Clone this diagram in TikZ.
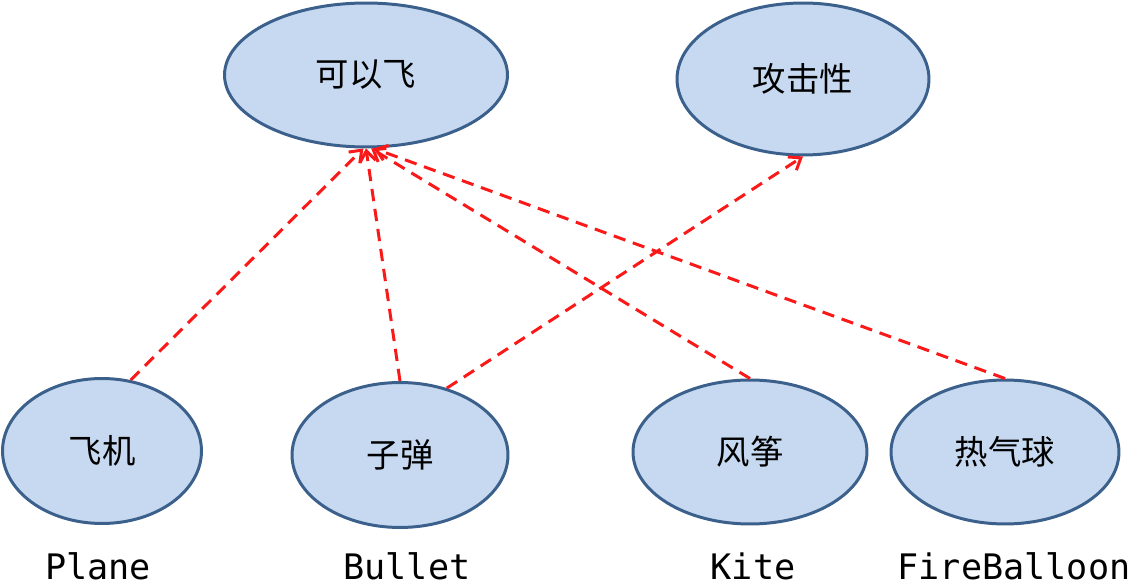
\documentclass[tikz,border=0pt]{standalone}
\usepackage{fontspec}
\setmonofont{DejaVu Sans Mono}
\newfontfamily\cjk{Noto Sans CJK SC}
\usetikzlibrary{shapes.geometric, arrows.meta}

\definecolor{ovalfill}{RGB}{198,217,240}
\definecolor{ovaldraw}{RGB}{60,96,140}
\definecolor{linkred}{RGB}{250,25,25}

\begin{document}
\begin{tikzpicture}[x=0.02cm, y=-0.02cm]
        \tikzstyle{oval}=[ellipse, draw=ovaldraw, fill=ovalfill, line width=1.7pt, inner sep=0pt, font=\cjk\fontsize{19}{19}\selectfont]
        \tikzstyle{impl}=[draw=linkred, line width=1.7pt, dash pattern=on 7pt off 4.5pt, -{Straight Barb[length=6pt, width=9pt]}]
        \tikzstyle{classname}=[anchor=base, font=\ttfamily\fontsize{20}{20}\selectfont]

        \useasboundingbox (0,0) rectangle (1144,587);

        % interfaces
        \node[oval, minimum width=5.66cm, minimum height=2.88cm] (canfly) at (366,75) {可以飞};
        \node[oval, minimum width=5.04cm, minimum height=3.04cm] (attack) at (803,79) {攻击性};

        % classes
        \node[oval, minimum width=3.98cm, minimum height=2.9cm] (plane) at (102,451) {飞机};
        \node[oval, minimum width=4.32cm, minimum height=2.9cm] (bullet) at (400,455) {子弹};
        \node[oval, minimum width=4.68cm, minimum height=2.88cm] (kite) at (750,452) {风筝};
        \node[oval, minimum width=4.56cm, minimum height=2.88cm] (balloon) at (1005,452) {热气球};

        \node[classname] (planename) at (98,580) {Plane};
        \node[classname] (bulletname) at (407,580) {Bullet};
        \node[classname] (kitename) at (753,580) {Kite};
        \node[classname] (balloonname) at (1014,580) {FireBalloon};

        \draw[impl] (plane.68) -- (canfly.268);
        \draw[impl] (bullet.north) -- (canfly.270);
        \draw[impl] (bullet.55) -- (attack.south);
        \draw[impl] (kite.north) -- (canfly.274);
        \draw[impl] (balloon.north) -- (canfly.276);
    \end{tikzpicture}
\end{document}
